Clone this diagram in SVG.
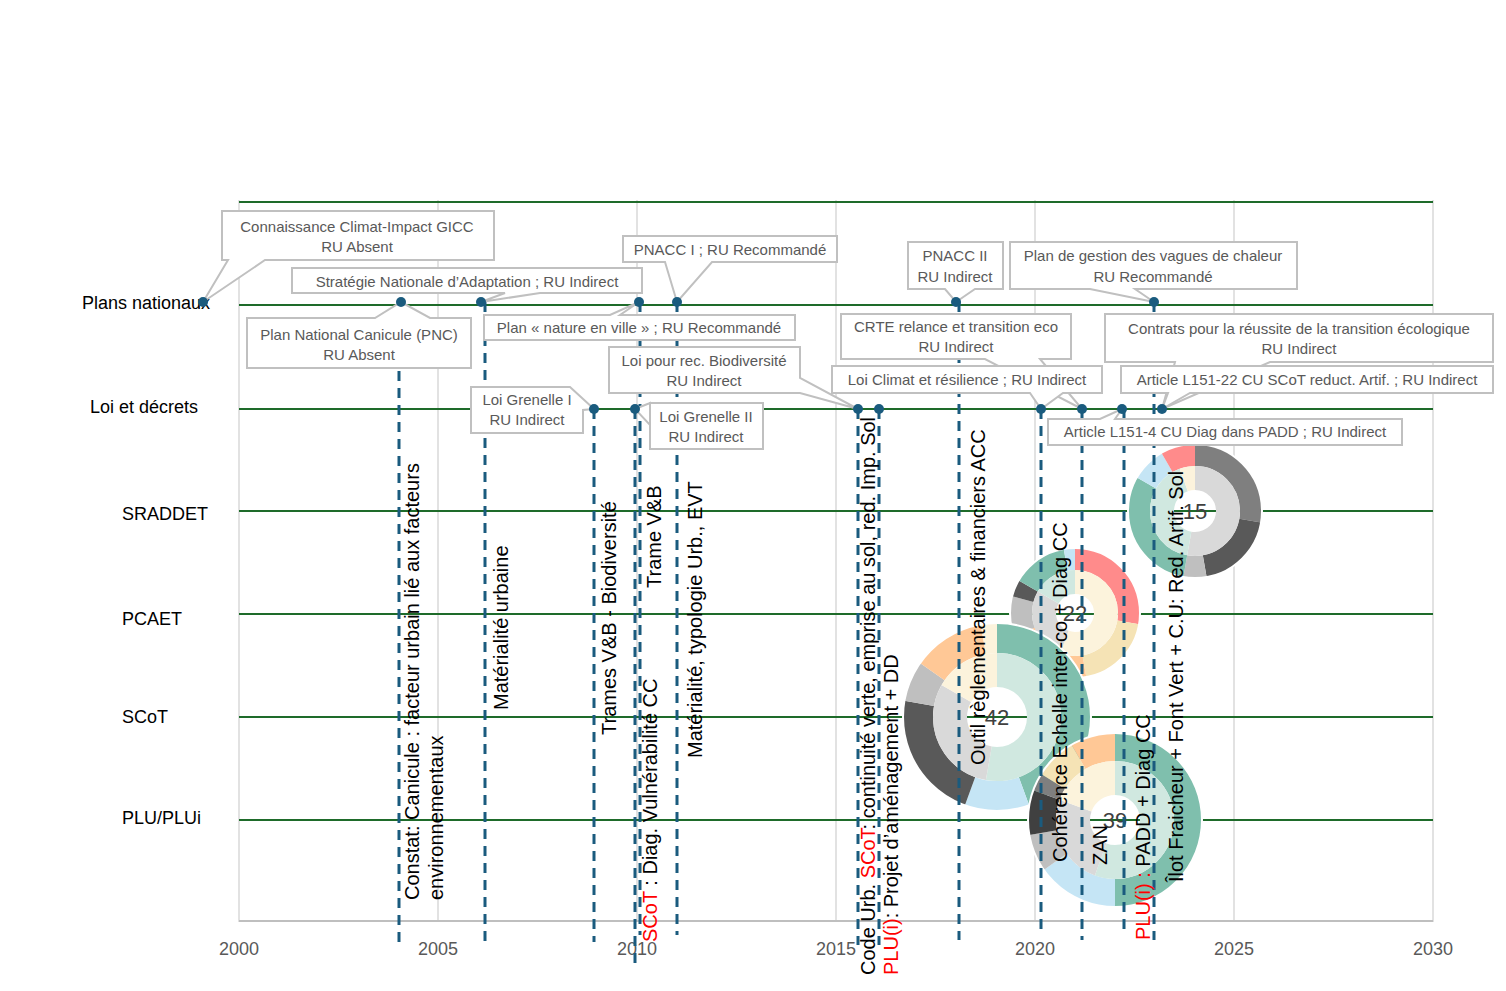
<svg xmlns="http://www.w3.org/2000/svg" width="1506" height="991" viewBox="0 0 1506 991">
<style>
.grid{stroke:#d9d9d9;stroke-width:1.5}
.row{stroke:#1e6b2a;stroke-width:2}
.lbl{font-family:"Liberation Sans",Arial,sans-serif;font-size:18px;fill:#000}
.yr{font-family:"Liberation Sans",Arial,sans-serif;font-size:18px;fill:#595959;text-anchor:middle}
.dash{stroke:#1a5b7e;stroke-width:3;stroke-dasharray:10 7;fill:none}
.dot{fill:#1a5b7e}
.co{fill:#fff;stroke:#c0c0c0;stroke-width:2}
.ct{font-family:"Liberation Sans",Arial,sans-serif;font-size:15px;fill:#595959;text-anchor:middle}
.vt{font-family:"Liberation Sans",Arial,sans-serif;font-size:20px;fill:#000}
.red{fill:#ff0000}
.num{font-family:"Liberation Sans",Arial,sans-serif;font-size:22px;fill:#404040;text-anchor:middle}
.seg{fill:none}
</style>
<rect width="1506" height="991" fill="#fff"/>
<g id="grid">
<line class="grid" x1="239" y1="200" x2="239" y2="922"/>
<line class="grid" x1="438" y1="200" x2="438" y2="922"/>
<line class="grid" x1="637" y1="200" x2="637" y2="922"/>
<line class="grid" x1="836" y1="200" x2="836" y2="922"/>
<line class="grid" x1="1035" y1="200" x2="1035" y2="922"/>
<line class="grid" x1="1234" y1="200" x2="1234" y2="922"/>
<line class="grid" x1="1433" y1="200" x2="1433" y2="922"/>
<line x1="239" y1="921" x2="1433" y2="921" stroke="#bfbfbf" stroke-width="2"/>
<line class="row" x1="239" y1="202" x2="1433" y2="202"/>
<line class="row" x1="239" y1="305" x2="1433" y2="305"/>
<line class="row" x1="239" y1="409" x2="1433" y2="409"/>
<line class="row" x1="239" y1="511" x2="1433" y2="511"/>
<line class="row" x1="239" y1="614" x2="1433" y2="614"/>
<line class="row" x1="239" y1="717" x2="1433" y2="717"/>
<line class="row" x1="239" y1="820" x2="1433" y2="820"/>
<text class="yr" x="239" y="955">2000</text>
<text class="yr" x="438" y="955">2005</text>
<text class="yr" x="637" y="955">2010</text>
<text class="yr" x="836" y="955">2015</text>
<text class="yr" x="1035" y="955">2020</text>
<text class="yr" x="1234" y="955">2025</text>
<text class="yr" x="1433" y="955">2030</text>
<text class="lbl" x="82" y="309">Plans nationaux</text>
<text class="lbl" x="90" y="413">Loi et décrets</text>
<text class="lbl" x="122" y="520">SRADDET</text>
<text class="lbl" x="122" y="625">PCAET</text>
<text class="lbl" x="122" y="723">SCoT</text>
<text class="lbl" x="122" y="824">PLU/PLUi</text>
</g>
<g id="donut15" transform="translate(1195,511) rotate(-90)">
<circle r="56" stroke="#7f7f7f" stroke-width="22" pathLength="360" stroke-dasharray="100 360" class="seg"/>
<circle r="56" stroke="#595959" stroke-width="22" pathLength="360" stroke-dasharray="70 360" stroke-dashoffset="-100" class="seg"/>
<circle r="56" stroke="#bfbfbf" stroke-width="22" pathLength="360" stroke-dasharray="20 360" stroke-dashoffset="-170" class="seg"/>
<circle r="56" stroke="#7fbfad" stroke-width="22" pathLength="360" stroke-dasharray="110 360" stroke-dashoffset="-190" class="seg"/>
<circle r="56" stroke="#c5e5f5" stroke-width="22" pathLength="360" stroke-dasharray="30 360" stroke-dashoffset="-300" class="seg"/>
<circle r="56" stroke="#ff8b8b" stroke-width="22" pathLength="360" stroke-dasharray="30 360" stroke-dashoffset="-330" class="seg"/>
<circle r="33" stroke="#d9d9d9" stroke-width="24" pathLength="360" stroke-dasharray="190 360" class="seg"/>
<circle r="33" stroke="#d0e8e0" stroke-width="24" pathLength="360" stroke-dasharray="150 360" stroke-dashoffset="-190" class="seg"/>
<circle r="33" stroke="#fcf3dc" stroke-width="24" pathLength="360" stroke-dasharray="20 360" stroke-dashoffset="-340" class="seg"/>
<circle r="67" fill="none" stroke="#fff" stroke-width="2"/>
</g>
<g id="donut22" transform="translate(1075,613) rotate(-90)">
<circle r="54" stroke="#ff8b8b" stroke-width="22" pathLength="360" stroke-dasharray="100 360" class="seg"/>
<circle r="54" stroke="#f5e3b5" stroke-width="22" pathLength="360" stroke-dasharray="70 360" stroke-dashoffset="-100" class="seg"/>
<circle r="54" stroke="#ffc896" stroke-width="22" pathLength="360" stroke-dasharray="80 360" stroke-dashoffset="-170" class="seg"/>
<circle r="54" stroke="#bfbfbf" stroke-width="22" pathLength="360" stroke-dasharray="35 360" stroke-dashoffset="-250" class="seg"/>
<circle r="54" stroke="#595959" stroke-width="22" pathLength="360" stroke-dasharray="15 360" stroke-dashoffset="-285" class="seg"/>
<circle r="54" stroke="#7fbfad" stroke-width="22" pathLength="360" stroke-dasharray="50 360" stroke-dashoffset="-300" class="seg"/>
<circle r="54" stroke="#c5e5f5" stroke-width="22" pathLength="360" stroke-dasharray="10 360" stroke-dashoffset="-350" class="seg"/>
<circle r="31" stroke="#fcf3dc" stroke-width="24" pathLength="360" stroke-dasharray="200 360" class="seg"/>
<circle r="31" stroke="#d9d9d9" stroke-width="24" pathLength="360" stroke-dasharray="100 360" stroke-dashoffset="-200" class="seg"/>
<circle r="31" stroke="#d0e8e0" stroke-width="24" pathLength="360" stroke-dasharray="60 360" stroke-dashoffset="-300" class="seg"/>
<circle r="65" fill="none" stroke="#fff" stroke-width="2"/>
</g>
<g id="donut42" transform="translate(997,717) rotate(-90)">
<circle r="79" stroke="#7fbfad" stroke-width="30" pathLength="360" stroke-dasharray="160 360" class="seg"/>
<circle r="79" stroke="#c5e5f5" stroke-width="30" pathLength="360" stroke-dasharray="40 360" stroke-dashoffset="-160" class="seg"/>
<circle r="79" stroke="#595959" stroke-width="30" pathLength="360" stroke-dasharray="80 360" stroke-dashoffset="-200" class="seg"/>
<circle r="79" stroke="#bfbfbf" stroke-width="30" pathLength="360" stroke-dasharray="25 360" stroke-dashoffset="-280" class="seg"/>
<circle r="79" stroke="#ffc896" stroke-width="30" pathLength="360" stroke-dasharray="45 360" stroke-dashoffset="-305" class="seg"/>
<circle r="79" stroke="#fcf3dc" stroke-width="30" pathLength="360" stroke-dasharray="10 360" stroke-dashoffset="-350" class="seg"/>
<circle r="47" stroke="#d0e8e0" stroke-width="34" pathLength="360" stroke-dasharray="190 360" class="seg"/>
<circle r="47" stroke="#d9d9d9" stroke-width="34" pathLength="360" stroke-dasharray="110 360" stroke-dashoffset="-190" class="seg"/>
<circle r="47" stroke="#fcf3dc" stroke-width="34" pathLength="360" stroke-dasharray="60 360" stroke-dashoffset="-300" class="seg"/>
<circle r="94" fill="none" stroke="#fff" stroke-width="2"/>
</g>
<g id="donut39" transform="translate(1115,820) rotate(-90)">
<circle r="73" stroke="#7fbfad" stroke-width="28" pathLength="360" stroke-dasharray="180 360" class="seg"/>
<circle r="73" stroke="#c5e5f5" stroke-width="28" pathLength="360" stroke-dasharray="55 360" stroke-dashoffset="-180" class="seg"/>
<circle r="73" stroke="#bfbfbf" stroke-width="28" pathLength="360" stroke-dasharray="25 360" stroke-dashoffset="-235" class="seg"/>
<circle r="73" stroke="#404040" stroke-width="28" pathLength="360" stroke-dasharray="30 360" stroke-dashoffset="-260" class="seg"/>
<circle r="73" stroke="#7f7f7f" stroke-width="28" pathLength="360" stroke-dasharray="12 360" stroke-dashoffset="-290" class="seg"/>
<circle r="73" stroke="#f5e3b5" stroke-width="28" pathLength="360" stroke-dasharray="28 360" stroke-dashoffset="-302" class="seg"/>
<circle r="73" stroke="#ffc896" stroke-width="28" pathLength="360" stroke-dasharray="30 360" stroke-dashoffset="-330" class="seg"/>
<circle r="42" stroke="#d0e8e0" stroke-width="34" pathLength="360" stroke-dasharray="200 360" class="seg"/>
<circle r="42" stroke="#d9d9d9" stroke-width="34" pathLength="360" stroke-dasharray="90 360" stroke-dashoffset="-200" class="seg"/>
<circle r="42" stroke="#fcf3dc" stroke-width="34" pathLength="360" stroke-dasharray="70 360" stroke-dashoffset="-290" class="seg"/>
<circle r="87" fill="none" stroke="#fff" stroke-width="2"/>
</g>
<g id="numbers">
<text class="num" x="1195" y="519">15</text>
<text class="num" x="1075" y="621">22</text>
<text class="num" x="997" y="725">42</text>
<text class="num" x="1115" y="828">39</text>
</g>
<g id="connectors">
<line class="dash" x1="399" y1="303" x2="399" y2="945"/>
<line class="dash" x1="485" y1="302" x2="485" y2="945"/>
<line class="dash" x1="594" y1="409" x2="594" y2="942"/>
<line class="dash" x1="635" y1="409" x2="635" y2="970"/>
<line class="dash" x1="640" y1="302" x2="640" y2="935"/>
<line class="dash" x1="677" y1="302" x2="677" y2="935"/>
<line class="dash" x1="858" y1="409" x2="858" y2="945"/>
<line class="dash" x1="879" y1="409" x2="879" y2="945"/>
<line class="dash" x1="959" y1="302" x2="959" y2="940"/>
<line class="dash" x1="1041" y1="409" x2="1041" y2="935"/>
<line class="dash" x1="1082" y1="409" x2="1082" y2="940"/>
<line class="dash" x1="1124" y1="409" x2="1124" y2="935"/>
<line class="dash" x1="1154" y1="302" x2="1154" y2="940"/>
</g>
<g id="callouts">
<path class="co" d="M222,211 H494 V260 H265 L203,302 L228,260 H222 Z"/>
<path class="co" d="M292,268 H642 V293 H540 L481,302 L505,293 H292 Z"/>
<path class="co" d="M247,318 H375 L401,302 L430,318 H471 V368 H247 Z"/>
<path class="co" d="M623,236 H837 V262 H712 L677,302 L665,262 H623 Z"/>
<path class="co" d="M484,315 H610 L639,302 L620,315 H795 V340 H484 Z"/>
<path class="co" d="M609,347 H800 V378 L858,409 L800,393 H609 Z"/>
<path class="co" d="M471,387 H570 L594,409 L583,410 V433 H471 Z"/>
<path class="co" d="M650,403 V425 L635,409 Z M650,403 H763 V449 H650 Z"/>
<path class="co" d="M908,242 H1003 V289 H975 L956,302 L945,289 H908 Z"/>
<path class="co" d="M1010,242 H1297 V289 H1135 L1154,302 L1090,289 H1010 Z"/>
<path class="co" d="M841,314 H1071 V359 H1040 L1082,409 L985,359 H841 Z"/>
<path class="co" d="M832,366 H1102 V393 H1063 L1041,409 L1030,393 H832 Z"/>
<path class="co" d="M1105,314 H1493 V362 H1270 L1162,409 L1175,362 H1105 Z"/>
<path class="co" d="M1121,366 H1493 V393 H1190 L1162,409 L1168,393 H1121 Z"/>
<path class="co" d="M1048,419 H1100 L1122,409 L1115,419 H1402 V445 H1048 Z"/>
<text class="ct" x="357" y="232">Connaissance Climat-Impact GICC</text>
<text class="ct" x="357" y="252">RU Absent</text>
<text class="ct" x="467" y="287">Stratégie Nationale d’Adaptation ; RU Indirect</text>
<text class="ct" x="359" y="340">Plan National Canicule (PNC)</text>
<text class="ct" x="359" y="360">RU Absent</text>
<text class="ct" x="730" y="255">PNACC I ; RU Recommandé</text>
<text class="ct" x="639" y="333">Plan « nature en ville » ; RU Recommandé</text>
<text class="ct" x="704" y="366">Loi pour rec. Biodiversité</text>
<text class="ct" x="704" y="386">RU Indirect</text>
<text class="ct" x="527" y="405">Loi Grenelle I</text>
<text class="ct" x="527" y="425">RU Indirect</text>
<text class="ct" x="706" y="422">Loi Grenelle II</text>
<text class="ct" x="706" y="442">RU Indirect</text>
<text class="ct" x="955" y="261">PNACC II</text>
<text class="ct" x="955" y="282">RU Indirect</text>
<text class="ct" x="1153" y="261">Plan de gestion des vagues de chaleur</text>
<text class="ct" x="1153" y="282">RU Recommandé</text>
<text class="ct" x="956" y="332">CRTE relance et transition eco</text>
<text class="ct" x="956" y="352">RU Indirect</text>
<text class="ct" x="967" y="385">Loi Climat et résilience ; RU Indirect</text>
<text class="ct" x="1299" y="334">Contrats pour la réussite de la transition écologique</text>
<text class="ct" x="1299" y="354">RU Indirect</text>
<text class="ct" x="1307" y="385">Article L151-22 CU SCoT reduct. Artif. ; RU Indirect</text>
<text class="ct" x="1225" y="437">Article L151-4  CU Diag dans PADD ; RU Indirect</text>
</g>
<g id="dots">
<circle class="dot" cx="203" cy="302" r="5"/>
<circle class="dot" cx="401" cy="302" r="5"/>
<circle class="dot" cx="481" cy="302" r="5"/>
<circle class="dot" cx="639" cy="302" r="5"/>
<circle class="dot" cx="677" cy="302" r="5"/>
<circle class="dot" cx="956" cy="302" r="5"/>
<circle class="dot" cx="1154" cy="302" r="5"/>
<circle class="dot" cx="594" cy="409" r="5"/>
<circle class="dot" cx="635" cy="409" r="5"/>
<circle class="dot" cx="858" cy="409" r="5"/>
<circle class="dot" cx="879" cy="409" r="5"/>
<circle class="dot" cx="1041" cy="409" r="5"/>
<circle class="dot" cx="1082" cy="409" r="5"/>
<circle class="dot" cx="1122" cy="409" r="5"/>
<circle class="dot" cx="1162" cy="409" r="5"/>
</g>
<g id="vlabels">
<text class="vt" transform="translate(419,900) rotate(-90)">Constat: Canicule : facteur urbain lié aux facteurs</text>
<text class="vt" transform="translate(443,900) rotate(-90)">environnementaux</text>
<text class="vt" transform="translate(508,710) rotate(-90)">Matérialité urbaine</text>
<text class="vt" transform="translate(616,735) rotate(-90)">Trames V&amp;B - Biodiversité</text>
<text class="vt" transform="translate(657,942) rotate(-90)"><tspan class="red">SCoT</tspan> : Diag. Vulnérabilité CC</text>
<text class="vt" transform="translate(661,588) rotate(-90)">Trame V&amp;B</text>
<text class="vt" transform="translate(702,758) rotate(-90)">Matérialité, typologie Urb., EVT</text>
<text class="vt" transform="translate(875,975) rotate(-90)">Code Urb. <tspan class="red">SCoT</tspan>: continuité verte, emprise au sol, red. Imp. Sol</text>
<text class="vt" transform="translate(898,975) rotate(-90)"><tspan class="red">PLU(i)</tspan>: Projet d’aménagement + DD</text>
<text class="vt" transform="translate(985,765) rotate(-90)">Outil règlementaires &amp; financiers ACC</text>
<text class="vt" transform="translate(1067,862) rotate(-90)">Cohérence Echelle inter-co + Diag CC</text>
<text class="vt" transform="translate(1107,865) rotate(-90)">ZAN</text>
<text class="vt" transform="translate(1150,940) rotate(-90)"><tspan class="red">PLU(i) :</tspan> PADD + Diag CC</text>
<text class="vt" transform="translate(1183,882) rotate(-90)">Îlot Fraicheur + Font Vert + C.U: Red. Artif. Sol</text>
</g>
</svg>
